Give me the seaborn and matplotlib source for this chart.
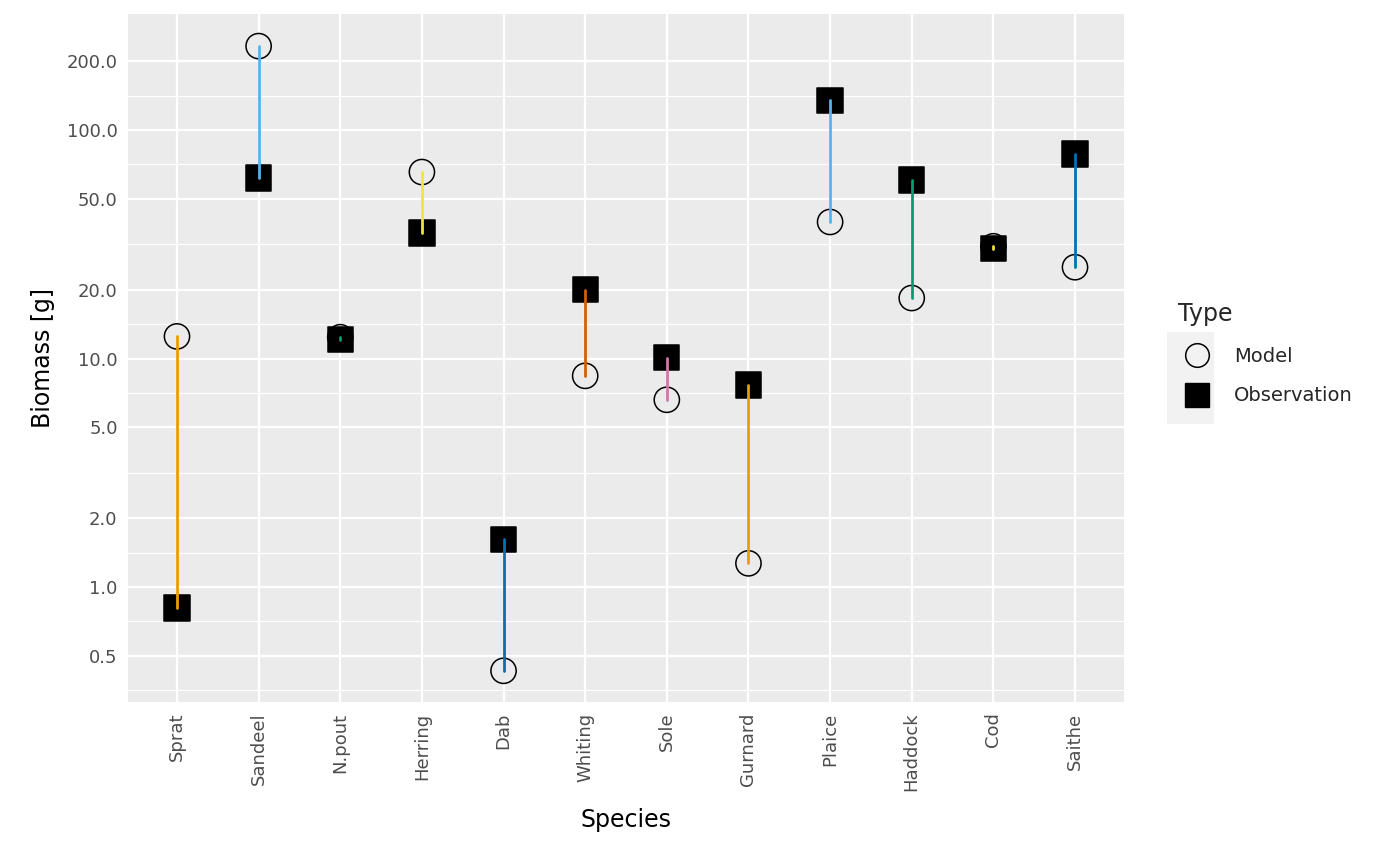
import matplotlib
matplotlib.use("Agg")
import matplotlib.pyplot as plt
import numpy as np
import pandas as pd
import seaborn as sns
from matplotlib.lines import Line2D
from matplotlib.patches import Rectangle

species = ['Sprat', 'Sandeel', 'N.pout', 'Herring', 'Dab', 'Whiting', 'Sole',
           'Gurnard', 'Plaice', 'Haddock', 'Cod', 'Saithe']
model = [12.5, 233, 12.4, 65.5, 0.43, 8.4, 6.6, 1.27, 39.6, 18.4, 31, 25.1]
observation = [0.81, 61.7, 12.1, 35.4, 1.62, 20, 10.1, 7.66, 135, 60.4, 30.2, 78.5]
line_colours = ['#E69F00', '#56B4E9', '#009E73', '#F0E442', '#0072B2', '#D55E00',
                '#CC79A7', '#E69F00', '#56B4E9', '#009E73', '#F0E442', '#0072B2']
breaks = [0.5, 1, 2, 5, 10, 20, 50, 100, 200]

df = pd.DataFrame({'Species': species * 2,
                   'Biomass': model + observation,
                   'Type': ['Model'] * 12 + ['Observation'] * 12})

sns.set_style('white')
plt.rcParams['font.family'] = ['DejaVu Sans']
fig = plt.figure(figsize=(14, 8.66), dpi=100)
ax = fig.add_axes([128 / 1400, 1 - 702 / 866, 996 / 1400, 688 / 866])
ax.set_facecolor('#EBEBEB')
ax.set_yscale('log')
ax.set_ylim(0.314, 322)
ax.set_xlim(-0.6, 11.6)

# grid like ggplot
for i in range(len(breaks) - 1):
    ax.axhline(np.sqrt(breaks[i] * breaks[i + 1]), color='white', lw=0.8, zorder=0)
ax.axhline(0.354, color='white', lw=0.8, zorder=0)
for b in breaks:
    ax.axhline(b, color='white', lw=1.6, zorder=0)
for i in range(len(species)):
    ax.axvline(i, color='white', lw=1.6, zorder=0)

sns.scatterplot(data=df, x='Species', y='Biomass', style='Type',
                markers={'Model': 'o', 'Observation': 's'}, s=330,
                hue='Type', palette={'Model': '#EBEBEB', 'Observation': 'black'},
                edgecolor='black', linewidth=1.1, ax=ax, zorder=2, legend=False)
for i in range(len(species)):
    ax.plot([i, i], [model[i], observation[i]], color=line_colours[i], lw=2, zorder=3)

ax.set_yticks(breaks)
ax.set_yticklabels([f'{b:.1f}' for b in breaks])
ax.yaxis.set_minor_locator(matplotlib.ticker.NullLocator())
ax.set_xticks(range(len(species)))
ax.set_xticklabels(species, rotation=90)
ax.tick_params(labelcolor='#4D4D4D', labelsize=13, length=4, width=1, color='#333333')
for s in ax.spines.values():
    s.set_visible(False)
ax.set_xlabel('Species', fontsize=17, color='black', labelpad=12)
ax.set_ylabel('Biomass [g]', fontsize=17, color='black', labelpad=8)

# legend key backgrounds
for yk in (355, 401):
    fig.patches.append(Rectangle((1167 / 1400, 1 - (yk + 23) / 866), 47 / 1400, 46 / 866,
                                 transform=fig.transFigure, facecolor='#F2F2F2',
                                 edgecolor='none', zorder=0))
handles = [Line2D([], [], marker='o', ls='', ms=17, mfc='none', mec='black', mew=1.1),
           Line2D([], [], marker='s', ls='', ms=17, mfc='black', mec='black')]
leg = fig.legend(handles, ['Model', 'Observation'], title='Type', loc='upper left',
                 bbox_to_anchor=(1160 / 1400, 1 - 285 / 866), frameon=False,
                 fontsize=14, title_fontsize=17, handletextpad=0.9, labelspacing=1.05,
                 alignment='left')
fig.savefig('out.png', dpi=100)
